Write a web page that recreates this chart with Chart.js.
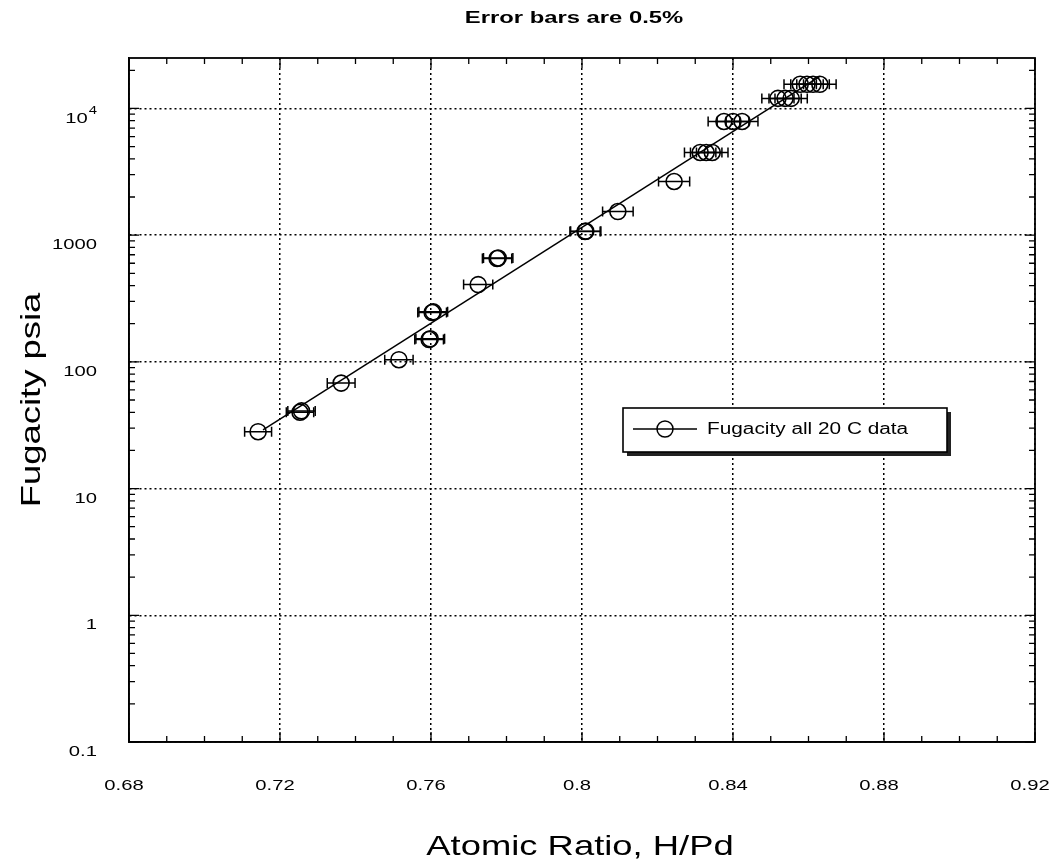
<!DOCTYPE html>
<html><head><meta charset="utf-8">
<script src="https://cdn.jsdelivr.net/npm/chart.js@4/dist/chart.umd.min.js"></script>
<style>html,body{margin:0;padding:0;background:#fff;overflow:hidden}</style>
</head><body>
<canvas id="c" width="1064" height="863"></canvas>
<script>
// ---- data ----
const hRatio   = [0.7142, 0.7253, 0.7257, 0.7362, 0.7515, 0.7595, 0.7598, 0.7603, 0.7606, 0.7725, 0.7775, 0.7778,
                  0.8008, 0.8010, 0.8095, 0.8244, 0.8313, 0.8329, 0.8345, 0.8376, 0.8400, 0.8424,
                  0.8519, 0.8538, 0.8554, 0.8578, 0.8596, 0.8612, 0.8630];
const fugacity = [28.1, 40, 41, 68, 104, 150, 152, 245, 248, 407, 654, 660,
                  1067, 1075, 1535, 2650, 4490, 4490, 4490, 7890, 7890, 7890,
                  12000, 12000, 12000, 15500, 15500, 15500, 15500];
const fitRatio    = [0.7155, 0.8630];
const fitFugacity = [29.1, 17900];
const xTickValues = [0.68, 0.72, 0.76, 0.80, 0.84, 0.88, 0.92];
const xTickLabels = ['0.68', '0.72', '0.76', '0.8', '0.84', '0.88', '0.92'];
const yTickValues = [0.1, 1, 10, 100, 1000, 10000];
const yTickLabels = ['0.1', '1', '10', '100', '1000', '10^4'];
const ERROR_FRACTION = 0.005;
const chartTitle  = 'Error bars are 0.5%';
const xTitle      = 'Atomic Ratio, H/Pd';
const yTitle      = 'Fugacity psia';
const seriesLabel = 'Fugacity all 20 C data';

// ---- drawing helpers ----
const FONT = '"Liberation Sans", Arial, Helvetica, sans-serif';
function sText(ctx, txt, x, y, size, opt) {
  opt = opt || {};
  const st = opt.stretch || 1.35;
  ctx.save();
  ctx.translate(x, y);
  if (opt.rot) ctx.rotate(opt.rot);
  ctx.scale(st, 1);
  ctx.font = (opt.bold ? 'bold ' : '') + size + 'px ' + FONT;
  ctx.textAlign = opt.align || 'center';
  ctx.textBaseline = 'middle';
  ctx.fillStyle = '#000';
  ctx.fillText(txt, 0, 0);
  ctx.restore();
}
function textWidth(ctx, txt, size, st) {
  ctx.save();
  ctx.font = size + 'px ' + FONT;
  const w = ctx.measureText(txt).width * (st || 1.35);
  ctx.restore();
  return w;
}

const decorPlugin = {
  id: 'decor',
  afterDatasetsDraw(chart) {
    // horizontal error bars
    const ctx = chart.ctx, xs = chart.scales.x, ys = chart.scales.y;
    ctx.save();
    ctx.strokeStyle = '#000';
    ctx.lineWidth = 1.5;
    hRatio.forEach((xv, i) => {
      const py = ys.getPixelForValue(fugacity[i]);
      const x1 = xs.getPixelForValue(xv * (1 - ERROR_FRACTION));
      const x2 = xs.getPixelForValue(xv * (1 + ERROR_FRACTION));
      ctx.beginPath();
      ctx.moveTo(x1, py); ctx.lineTo(x2, py);
      ctx.moveTo(x1, py - 5); ctx.lineTo(x1, py + 5);
      ctx.moveTo(x2, py - 5); ctx.lineTo(x2, py + 5);
      ctx.stroke();
    });
    ctx.restore();
  },
  afterDraw(chart) {
    const ctx = chart.ctx, a = chart.chartArea, xs = chart.scales.x, ys = chart.scales.y;
    ctx.save();
    // frame
    ctx.strokeStyle = '#000';
    ctx.lineWidth = 1.8;
    ctx.strokeRect(a.left, a.top, a.right - a.left, a.bottom - a.top);
    // minor ticks x (inside, bottom and top)
    ctx.lineWidth = 1.3;
    ctx.beginPath();
    for (let k = 0; k <= 24; k++) {
      const v = 0.68 + k * 0.01;
      const px = xs.getPixelForValue(v);
      const len = (k % 4 === 0) ? 10 : 6;
      ctx.moveTo(px, a.bottom); ctx.lineTo(px, a.bottom - len);
      ctx.moveTo(px, a.top); ctx.lineTo(px, a.top + len);
    }
    // minor ticks y (log)
    for (let e = -1; e <= 4; e++) {
      for (let m = 1; m <= 9; m++) {
        const v = m * Math.pow(10, e);
        if (v < 0.1 || v > 25000) continue;
        const py = ys.getPixelForValue(v);
        const len = m === 1 ? 10 : 6;
        ctx.moveTo(a.left, py); ctx.lineTo(a.left + len, py);
        ctx.moveTo(a.right, py); ctx.lineTo(a.right - len, py);
      }
    }
    ctx.stroke();

    // tick labels from the scale values
    xTickValues.forEach((v, i) => {
      sText(ctx, xTickLabels[i], xs.getPixelForValue(v) - 5, 786, 15);
    });
    yTickValues.forEach((v, i) => {
      const py = ys.getPixelForValue(v) + 10;
      const lab = yTickLabels[i];
      if (lab.indexOf('^') > 0) {
        const [base, exp] = lab.split('^');
        const we = textWidth(ctx, exp, 11);
        sText(ctx, exp, 97, py - 7, 11, {align: 'right'});
        sText(ctx, base, 97 - we - 1, py, 15, {align: 'right'});
      } else {
        sText(ctx, lab, 97, py, 15, {align: 'right'});
      }
    });

    // titles
    sText(ctx, chartTitle, 574, 18, 17, {bold: true, stretch: 1.4});
    sText(ctx, xTitle, 580, 847, 28, {stretch: 1.3});
    sText(ctx, yTitle, 32, 400, 28, {stretch: 1.3, rot: -Math.PI / 2});

    // legend box with shadow
    const lx = 623, ly = 408, lw = 324, lh = 44;
    ctx.fillStyle = '#222';
    ctx.fillRect(lx + 4, ly + 4, lw, lh);
    ctx.fillStyle = '#fff';
    ctx.fillRect(lx, ly, lw, lh);
    ctx.strokeStyle = '#000';
    ctx.lineWidth = 1.6;
    ctx.strokeRect(lx, ly, lw, lh);
    ctx.lineWidth = 1.5;
    ctx.beginPath();
    ctx.moveTo(lx + 10, ly + 21); ctx.lineTo(lx + 74, ly + 21);
    ctx.stroke();
    ctx.beginPath();
    ctx.arc(lx + 42, ly + 21, 8, 0, Math.PI * 2);
    ctx.fillStyle = '#fff';
    ctx.fill();
    ctx.stroke();
    ctx.beginPath();
    ctx.moveTo(lx + 34, ly + 21); ctx.lineTo(lx + 50, ly + 21);
    ctx.stroke();
    sText(ctx, seriesLabel, lx + 84, ly + 22, 16, {align: 'left', stretch: 1.3});
    ctx.restore();
  }
};

new Chart(document.getElementById('c'), {
  type: 'scatter',
  data: {
    datasets: [
      {
        label: 'fit',
        data: fitRatio.map((x, i) => ({x: x, y: fitFugacity[i]})),
        showLine: true,
        borderColor: '#000',
        borderWidth: 1.5,
        pointRadius: 0,
        order: 2
      },
      {
        label: seriesLabel,
        data: hRatio.map((x, i) => ({x: x, y: fugacity[i]})),
        showLine: false,
        pointStyle: 'circle',
        pointRadius: 8,
        pointBorderWidth: 1.6,
        pointBorderColor: '#000',
        pointBackgroundColor: 'rgba(0,0,0,0)',
        order: 1
      }
    ]
  },
  options: {
    responsive: false,
    animation: false,
    devicePixelRatio: 1,
    layout: {padding: {top: 58, right: 29, left: 0, bottom: 0}},
    plugins: {legend: {display: false}, tooltip: {enabled: false}, title: {display: false}},
    scales: {
      x: {
        type: 'linear', min: 0.68, max: 0.92,
        afterBuildTicks: s => { s.ticks = xTickValues.map(v => ({value: v})); },
        afterFit: s => { s.height = 121; },
        ticks: {display: false},
        grid: {color: '#000', lineWidth: 1.5, drawTicks: false},
        border: {display: true, color: '#000', width: 1.5, dash: [2, 3]}
      },
      y: {
        type: 'logarithmic', min: 0.1, max: 25000,
        afterBuildTicks: s => { s.ticks = yTickValues.map(v => ({value: v})); },
        afterFit: s => { s.width = 129; },
        ticks: {display: false},
        grid: {color: '#000', lineWidth: 1.5, drawTicks: false},
        border: {display: true, color: '#000', width: 1.5, dash: [2, 3]}
      }
    }
  },
  plugins: [decorPlugin]
});
</script>
</body></html>
